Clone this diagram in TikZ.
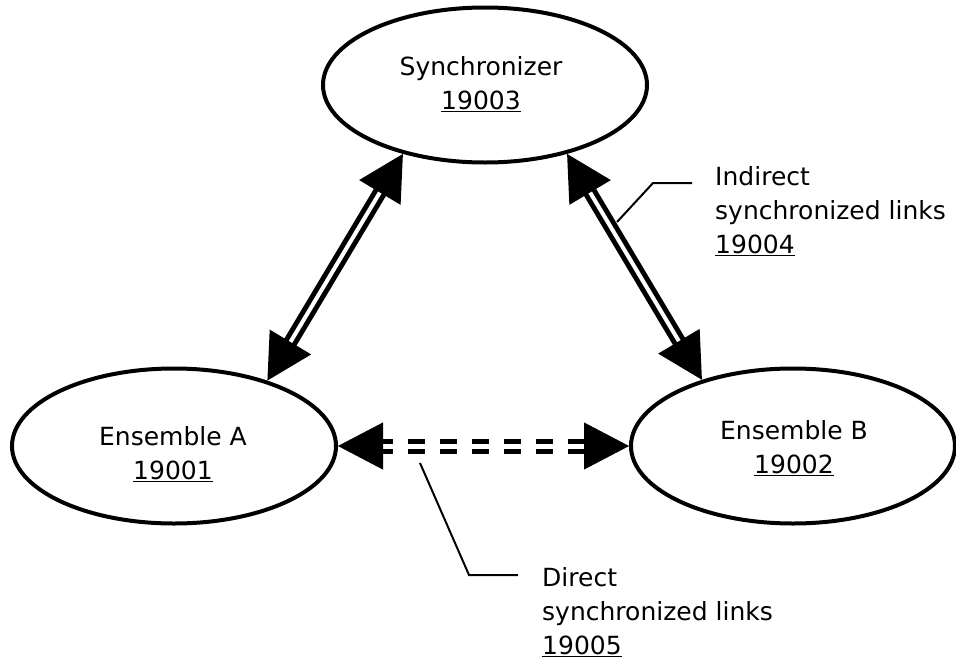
\documentclass[tikz,border=0pt]{standalone}
\usepackage{fontspec}
\setmainfont{DejaVu Sans}
\usetikzlibrary{arrows.meta,shapes.geometric}
\tikzset{
  unit/.style={ellipse, draw, line width=4pt, minimum width=324pt, minimum height=155pt},
  txt/.style={font=\fontsize{25}{34}\selectfont, align=center, inner sep=0pt, anchor=north},
  sidetxt/.style={txt, align=left, anchor=north west},
  bothtips/.style={{Triangle[length=45pt,width=47pt]}-{Triangle[length=45pt,width=47pt]}},
  synclink/.style={bothtips, line width=5pt, double, double distance=4pt},
  dashpair/.style={line width=5pt, dash pattern=on 17pt off 15pt, dash phase=7pt,
    shorten <=45pt, shorten >=45pt},
  callout/.style={line width=2pt}
}
\begin{document}
\begin{tikzpicture}[x=1pt, y=-1pt]
  \useasboundingbox (0,0) rectangle (956,667);
  % ellipses
  \node[unit] (sync) at (485,85) {};
  \node[unit] (ensA) at (174,446) {};
  \node[unit] (ensB) at (793,446) {};
  \node[txt] (synctxt) at (481,56) {Synchronizer\\\underline{19003}};
  \node[txt] (ensAtxt) at (173,426) {Ensemble A\\\underline{19001}};
  \node[txt] (ensBtxt) at (794,420) {Ensemble B\\\underline{19002}};
  % links
  \draw[synclink] (ensA.35) -- (sync.220);
  \draw[synclink] (sync.320) -- (ensB.144);
  \path[tips, bothtips] (ensA.east) -- (ensB.west);
  \foreach \s in {-5,5}
    \draw[dashpair, transform canvas={yshift=\s pt}] (ensA.east) -- (ensB.west);
  % callouts
  \node[sidetxt] (indtxt) at (715,166) {Indirect\\synchronized links\\\underline{19004}};
  \node[sidetxt] (dirtxt) at (542,567) {Direct\\synchronized links\\\underline{19005}};
  \coordinate (indfoot) at (617,222);
  \coordinate (dirfoot) at (420,463);
  \draw[callout] (indfoot) -- (653,183) -- (692,183);
  \draw[callout] (dirfoot) -- (469,575) -- (518,575);
\end{tikzpicture}
\end{document}
